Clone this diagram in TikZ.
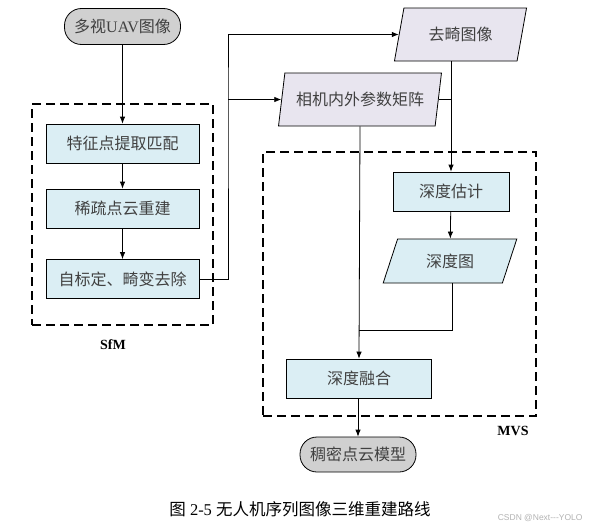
\documentclass[tikz,border=0pt]{standalone}
\usepackage{fontspec}
\setmainfont{Liberation Serif}
\newfontfamily\cjk{Noto Sans CJK SC}
\newfontfamily\wmfont{Liberation Sans}
\usetikzlibrary{arrows.meta,positioning,shapes.geometric}
\definecolor{StepBlue}{HTML}{DBEEF4}
\definecolor{DataLilac}{HTML}{E8E5EF}
\definecolor{EndGray}{HTML}{D0D0D0}

\begin{document}
\begin{tikzpicture}[x=1pt, y=-1pt,
  box/.style={draw, thick, fill=StepBlue, minimum height=39pt, inner sep=0pt, text=black!75, font=\fontsize{16}{18}\selectfont\cjk},
  data/.style={draw, thick, trapezium, trapezium left angle=70, trapezium right angle=110, trapezium stretches=true, minimum height=53pt, inner sep=0pt, fill=DataLilac, text=black!75, font=\fontsize{16}{18}\selectfont\cjk},
  term/.style={draw, thick, rounded corners=17pt, fill=EndGray, minimum height=36pt, inner sep=0pt, text=black!75, font=\fontsize{16}{18}\selectfont\cjk},
  group/.style={draw, line width=1.6pt, dash pattern=on 9pt off 5pt, inner sep=0pt},
  arrow/.style={-{Latex[length=7pt,width=5.5pt]}, thick}
]
\useasboundingbox (0,0) rectangle (589,530);

% groups
\node[group, minimum width=181pt, minimum height=221pt] (sfm) at (122.5,214.5) {};
\node[group, minimum width=273pt, minimum height=264pt] (mvs) at (399.5,284) {};
\node[font=\fontsize{14}{16}\selectfont\bfseries] (sfmlab) at (113,345) {SfM};
\node[font=\fontsize{14}{16}\selectfont\bfseries] (mvslab) at (513,431) {MVS};

% SfM side
\node[term, minimum width=116pt] (uav) at (122.5,26.5) {多视{\rmfamily UAV}图像};
\node[box, minimum width=153pt] (feat) at (122.5,143.5) {特征点提取匹配};
\node[box, minimum width=153pt] (sparse) at (122.5,208.5) {稀疏点云重建};
\node[box, minimum width=153pt] (calib) at (122.5,279) {自标定、畸变去除};

% data
\node[data, minimum width=133pt] (undist) at (460.5,34.5) {去畸图像};
\node[data, minimum width=163pt] (cam) at (360,99.5) {相机内外参数矩阵};

% MVS side
\node[box, minimum width=116pt] (depest) at (451,191.5) {深度估计};
\node[data, fill=StepBlue, minimum width=134pt, minimum height=44pt, trapezium left angle=66, trapezium right angle=114] (depmap) at (450,261) {深度图};
\node[box, minimum width=145pt] (fuse) at (359,378.5) {深度融合};
\node[term, minimum width=116pt, minimum height=35pt] (dense) at (358,454.5) {稠密点云模型};

\coordinate (bus) at (228,99.5);
\coordinate (merge) at (359,330);

\draw[arrow] (uav) -- (feat);
\draw[arrow] (feat) -- (sparse);
\draw[arrow] (sparse) -- (calib);
\draw[arrow] (calib.east) -| (bus) |- (undist.west);
\draw[arrow] (bus) -- (cam.west);
\draw[arrow] (depest.north |- undist.south) -- (depest.north);
\draw (cam.east) -- (cam.east -| depest.north);
\draw[arrow] (cam.south) -- (fuse.north);
\draw[arrow] (depest) -- (depmap);
\draw (depmap.south -| 452,0) |- (merge);
\draw[arrow] (fuse.south -| dense.north) -- (dense.north);

% caption
\node[font=\fontsize{16.5}{20}\selectfont] (cap) at (300,509) {{\cjk 图} 2-5 {\cjk 无人机序列图像三维重建路线}};
\node[font=\fontsize{8.5}{10}\selectfont\wmfont, text=black!30, anchor=east] (wm) at (586,518) {CSDN @Next---YOLO};
\end{tikzpicture}
\end{document}
